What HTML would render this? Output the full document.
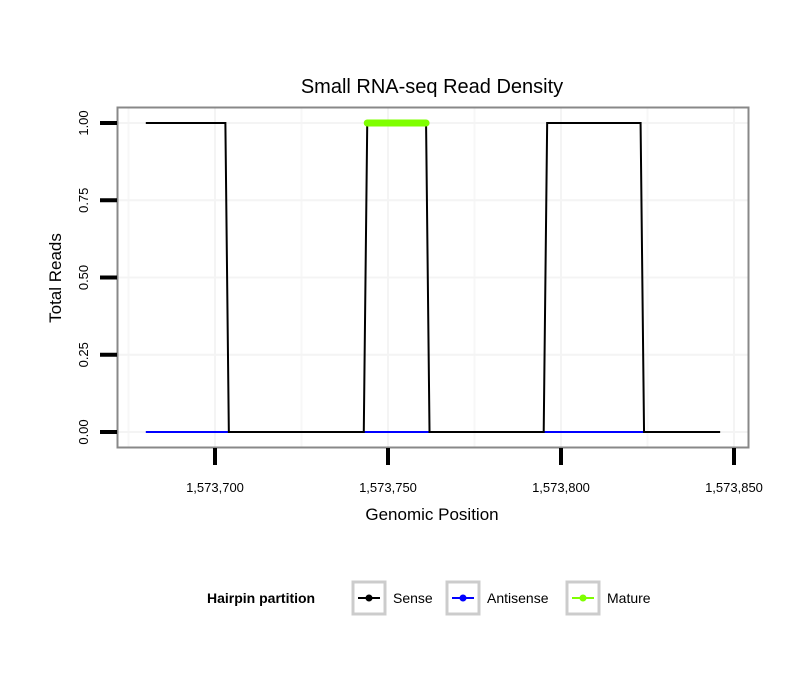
<!DOCTYPE html>
<html><head><meta charset="utf-8"><style>
body{margin:0;background:#fff;}
svg text{font-family:"Liberation Sans",sans-serif;}
</style></head><body>
<svg width="810" height="690" xmlns="http://www.w3.org/2000/svg">
<rect width="810" height="690" fill="#fff"/>
<text x="432" y="93" font-size="20" text-anchor="middle">Small RNA-seq Read Density</text>
<g id="grid"></g>
<g id="plot"></g>
<rect x="117.5" y="107.5" width="631" height="340" fill="none" stroke="#888" stroke-width="2"/>
<g id="axes"></g>
<text x="432" y="520" font-size="17" text-anchor="middle">Genomic Position</text>
<text transform="translate(61,278) rotate(-90)" font-size="17" text-anchor="middle">Total Reads</text>
<g>
<text x="207" y="603" font-size="14" font-weight="bold">Hairpin partition</text>
<g><rect x="353" y="582" width="32" height="32" fill="#fff" stroke="#ccc" stroke-width="3"/><line x1="358" y1="598" x2="380" y2="598" stroke="#000" stroke-width="2"/><circle cx="369" cy="598" r="3.5" fill="#000"/><text x="393" y="603" font-size="14">Sense</text></g>
<g><rect x="447" y="582" width="32" height="32" fill="#fff" stroke="#ccc" stroke-width="3"/><line x1="452" y1="598" x2="474" y2="598" stroke="#00f" stroke-width="2"/><circle cx="463" cy="598" r="3.5" fill="#00f"/><text x="487" y="603" font-size="14">Antisense</text></g>
<g><rect x="567" y="582" width="32" height="32" fill="#fff" stroke="#ccc" stroke-width="3"/><line x1="572" y1="598" x2="594" y2="598" stroke="#7fff00" stroke-width="2"/><circle cx="583" cy="598" r="3.5" fill="#7fff00"/><text x="607" y="603" font-size="14">Mature</text></g>
</g>
</svg>
<script>
const senseX=[1573680,1573703,1573704,1573743,1573744,1573761,1573762,1573795,1573796,1573823,1573824,1573846];
const senseY=[1,1,0,0,1,1,0,0,1,1,0,0];
const antisenseSegments=[[1573680,1573704],[1573743,1573762],[1573795,1573824]];
const antisenseY=[0,0,0];
const matureX=[1573744,1573761];
const matureY=[1,1];
const xTicks=[1573700,1573750,1573800,1573850];
const xTickLabels=["1,573,700","1,573,750","1,573,800","1,573,850"];
const yTicks=[0,0.25,0.5,0.75,1];
const yTickLabels=["0.00","0.25","0.50","0.75","1.00"];
const NS="http://www.w3.org/2000/svg";
function sx(v){return 215+(v-1573700)*3.46;}
function sy(v){return 432-v*309;}
function mk(t,a,p){const e=document.createElementNS(NS,t);for(const k in a)e.setAttribute(k,a[k]);p.appendChild(e);return e;}
const grid=document.getElementById('grid'),plot=document.getElementById('plot'),axes=document.getElementById('axes');
mk('rect',{x:118,y:108,width:630,height:339,fill:'#fff'},grid);
for(let i=0;i<xTicks.length;i++){
  const l=mk('line',{x1:sx(xTicks[i]),x2:sx(xTicks[i]),y1:108,y2:447,stroke:'#f4f4f4','stroke-width':2},grid);
  
  
  const m=mk('line',{x1:sx(xTicks[i]-25),x2:sx(xTicks[i]-25),y1:108,y2:447,stroke:'#f7f7f7','stroke-width':2},grid);
  
  
}
for(let i=0;i<yTicks.length;i++){
  const l=mk('line',{x1:118,x2:748,y1:sy(yTicks[i]),y2:sy(yTicks[i]),stroke:'#f4f4f4','stroke-width':2},grid);
  
  
}
antisenseSegments.forEach((s,i)=>{
  const l=mk('line',{x1:sx(s[0]),x2:sx(s[1]),y1:sy(antisenseY[i]),y2:sy(antisenseY[i]),stroke:'#00f','stroke-width':2},plot);
  
  
});
const pts=senseX.map((x,i)=>sx(x)+','+sy(senseY[i])).join(' ');
const pl=mk('polyline',{points:pts,fill:'none',stroke:'#000','stroke-width':2},plot);


const ml=mk('line',{x1:sx(matureX[0]),x2:sx(matureX[1]),y1:sy(matureY[0]),y2:sy(matureY[1]),stroke:'#7fff00','stroke-width':7,'stroke-linecap':'round'},plot);


xTicks.forEach((v,i)=>{
  const t=mk('line',{x1:sx(v),x2:sx(v),y1:448,y2:465,stroke:'#000','stroke-width':4},axes);
  
  
  const tx=mk('text',{x:sx(v),y:492,'font-size':13,'text-anchor':'middle'},axes);
  tx.textContent=xTickLabels[i];
  
  
});
yTicks.forEach((v,i)=>{
  const t=mk('line',{x1:100,x2:117,y1:sy(v),y2:sy(v),stroke:'#000','stroke-width':4},axes);
  
  
  const tx=mk('text',{transform:`translate(88,${sy(v)}) rotate(-90)`,'font-size':13,'text-anchor':'middle'},axes);
  tx.textContent=yTickLabels[i];
  
  
});
</script>
</body></html>
